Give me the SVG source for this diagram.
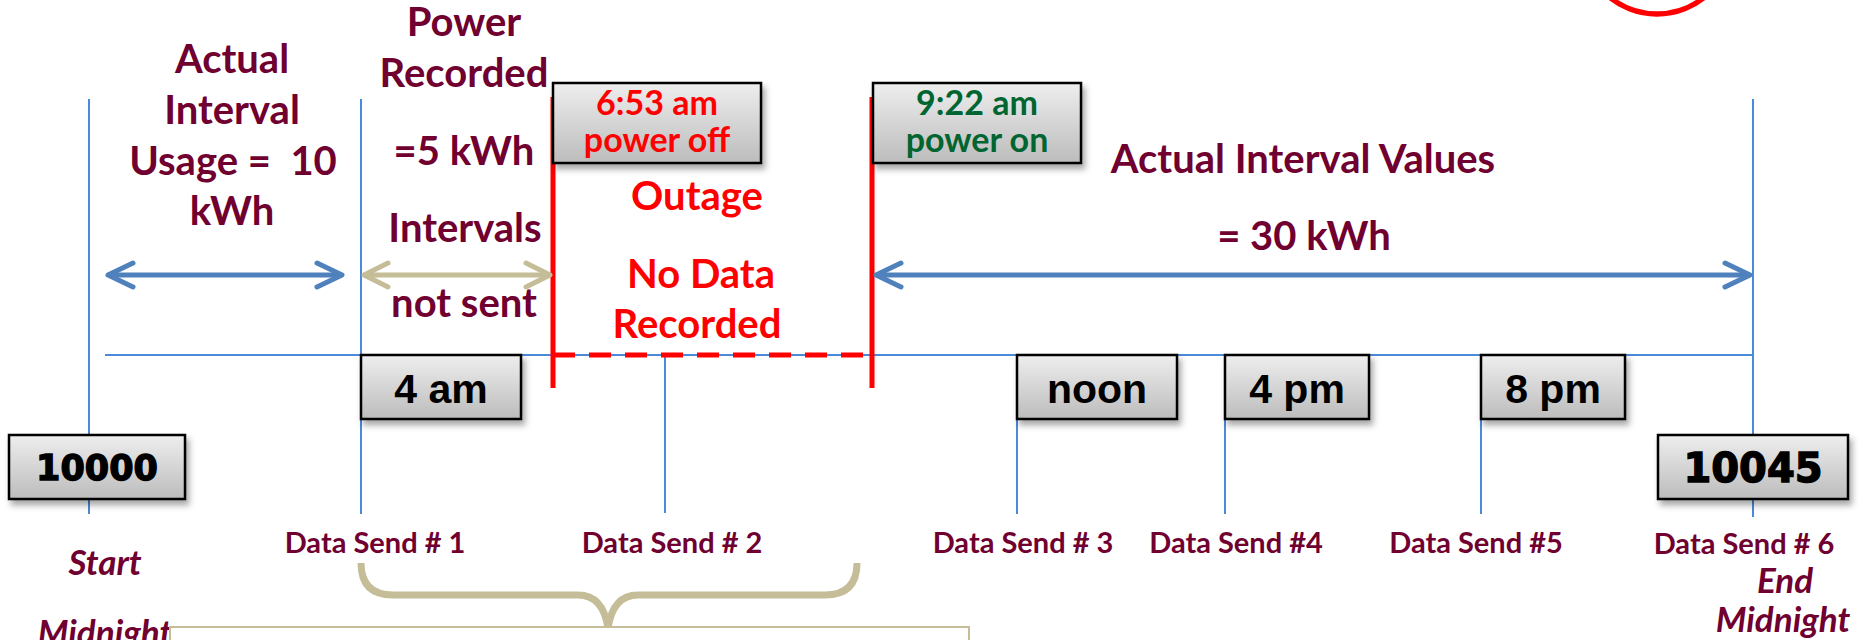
<svg xmlns="http://www.w3.org/2000/svg" width="1860" height="640" viewBox="0 0 1860 640">
<style>
.mar{font-family:Lato,"Open Sans",sans-serif;font-weight:bold;fill:#700030;text-anchor:middle}
.big{font-size:40px}
.ds{font-size:29px}
.it{font-style:italic;font-size:35px}
.red{fill:#ff0000}
.grn{fill:#006530}
.bx{fill:url(#g);stroke:#000;stroke-width:2.5;filter:url(#sh)}
.bt{font-family:"Liberation Sans",Arial,sans-serif;font-weight:bold;font-size:41px;fill:#000;text-anchor:middle}
.num{font-family:"DejaVu Sans",sans-serif;font-weight:bold;fill:#000;stroke:#000;stroke-width:1.4;text-anchor:middle}
.tt{font-family:Lato,sans-serif;font-weight:bold;font-size:34px;text-anchor:middle}
.vl{stroke:#4a8ad8;stroke-width:2;fill:none}
.rl{stroke:#ff0000;stroke-width:5;fill:none}
</style>
<defs>
<linearGradient id="g" x1="0" y1="0" x2="0" y2="1">
<stop offset="0" stop-color="#eeeeee"/>
<stop offset="1" stop-color="#bcbcbc"/>
</linearGradient>
<filter id="sh" x="-10%" y="-10%" width="125%" height="140%">
<feDropShadow dx="3" dy="5" stdDeviation="3" flood-color="#000" flood-opacity="0.35"/>
</filter>
<marker id="ab" markerUnits="userSpaceOnUse" viewBox="-30 -16 34 32" refX="0" refY="0" markerWidth="34" markerHeight="32" orient="auto-start-reverse">
<path d="M-25,-12 L0,0 L-25,12" fill="none" stroke="#4f81bd" stroke-width="5" stroke-linecap="round" stroke-linejoin="round"/>
</marker>
<marker id="ak" markerUnits="userSpaceOnUse" viewBox="-30 -16 34 32" refX="0" refY="0" markerWidth="34" markerHeight="32" orient="auto-start-reverse">
<path d="M-24,-12 L0,0 L-24,12" fill="none" stroke="#c4bd97" stroke-width="5" stroke-linecap="round" stroke-linejoin="round"/>
</marker>
</defs>
<rect width="1860" height="640" fill="#fff"/>

<g id="connectors">
<line class="vl" x1="105" y1="355" x2="1753" y2="355"/>
<line class="vl" x1="89" y1="99" x2="89" y2="514"/>
<line class="vl" x1="361" y1="99" x2="361" y2="514"/>
<line class="vl" x1="665" y1="355" x2="665" y2="513"/>
<line class="vl" x1="1017" y1="355" x2="1017" y2="514"/>
<line class="vl" x1="1225" y1="355" x2="1225" y2="514"/>
<line class="vl" x1="1481" y1="355" x2="1481" y2="514"/>
<line class="vl" x1="1753" y1="99" x2="1753" y2="517"/>
<line class="rl" x1="553" y1="97" x2="553" y2="388"/>
<line class="rl" x1="872" y1="97" x2="872" y2="388"/>
<line class="rl" x1="553" y1="355" x2="872" y2="355" stroke-dasharray="22 14"/>
<line x1="108" y1="275" x2="342" y2="275" stroke="#4f81bd" stroke-width="5" marker-start="url(#ab)" marker-end="url(#ab)"/>
<line x1="364" y1="275" x2="550" y2="275" stroke="#c4bd97" stroke-width="5" marker-start="url(#ak)" marker-end="url(#ak)"/>
<line x1="876" y1="275" x2="1750" y2="275" stroke="#4f81bd" stroke-width="5" marker-start="url(#ab)" marker-end="url(#ab)"/>
<path d="M361,563 Q361,595 393,595 L578,595 Q603,595 608,628 Q613,595 638,595 L825,595 Q857,595 857,563" fill="none" stroke="#c4bd97" stroke-width="7"/>
</g>

<g id="mark">
<circle cx="1657" cy="-61" r="75" fill="none" stroke="#ff0000" stroke-width="5.5"/>
</g>

<g id="left-usage">
<text class="mar big" x="232" y="73">Actual</text>
<text class="mar big" x="232" y="124">Interval</text>
<text class="mar big" x="233" y="175" xml:space="preserve">Usage =  10</text>
<text class="mar big" x="232" y="225">kWh</text>
</g>

<g id="power-recorded">
<text class="mar big" x="464" y="36">Power</text>
<text class="mar big" x="464" y="87">Recorded</text>
<text class="mar big" x="464" y="165">=5 kWh</text>
<text class="mar big" x="465" y="242">Intervals</text>
<text class="mar big" x="464" y="317">not sent</text>
</g>

<g id="outage">
<text class="mar big red" x="697" y="210">Outage</text>
<text class="mar big red" x="701" y="288">No Data</text>
<text class="mar big red" x="697" y="338">Recorded</text>
</g>

<g id="actual-values">
<text class="mar big" x="1303" y="173">Actual Interval Values</text>
<text class="mar big" x="1304" y="250">= 30 kWh</text>
</g>

<g id="box-653">
<rect class="bx" x="553" y="83" width="208" height="80"/>
<text class="tt red" x="657" y="115">6:53 am</text>
<text class="tt red" x="657" y="152">power off</text>
</g>
<g id="box-922">
<rect class="bx" x="873" y="83" width="208" height="80"/>
<text class="tt grn" x="977" y="115">9:22 am</text>
<text class="tt grn" x="977" y="152">power on</text>
</g>

<g id="box-10000">
<rect class="bx" x="9" y="435" width="176" height="64"/>
<text class="num" x="97" y="480" font-size="35">10000</text>
</g>
<g id="box-4am">
<rect class="bx" x="361" y="355" width="160" height="64"/>
<text class="bt" x="441" y="403">4 am</text>
</g>
<g id="box-noon">
<rect class="bx" x="1017" y="355" width="160" height="64"/>
<text class="bt" x="1097" y="403">noon</text>
</g>
<g id="box-4pm">
<rect class="bx" x="1225" y="355" width="144" height="64"/>
<text class="bt" x="1297" y="403">4 pm</text>
</g>
<g id="box-8pm">
<rect class="bx" x="1481" y="355" width="144" height="64"/>
<text class="bt" x="1553" y="403">8 pm</text>
</g>
<g id="box-10045">
<rect class="bx" x="1658" y="435" width="190" height="64"/>
<text class="num" x="1753" y="482" font-size="40">10045</text>
</g>

<g id="labels">
<text class="mar ds" x="375" y="553">Data Send # 1</text>
<text class="mar ds" x="672" y="553">Data Send # 2</text>
<text class="mar ds" x="1023" y="553">Data Send # 3</text>
<text class="mar ds" x="1236" y="553">Data Send #4</text>
<text class="mar ds" x="1476" y="553">Data Send #5</text>
<text class="mar ds" x="1744" y="554">Data Send # 6</text>
<text class="mar it" x="105" y="575">Start</text>
<text class="mar it" x="105" y="645">Midnight</text>
<text class="mar it" x="1785" y="593">End</text>
<text class="mar it" x="1783" y="632" font-size="34">Midnight</text>
</g>

<g id="note-box">
<rect x="170" y="627" width="799" height="30" fill="#fff" stroke="#c4bd97" stroke-width="2"/>
</g>
</svg>
